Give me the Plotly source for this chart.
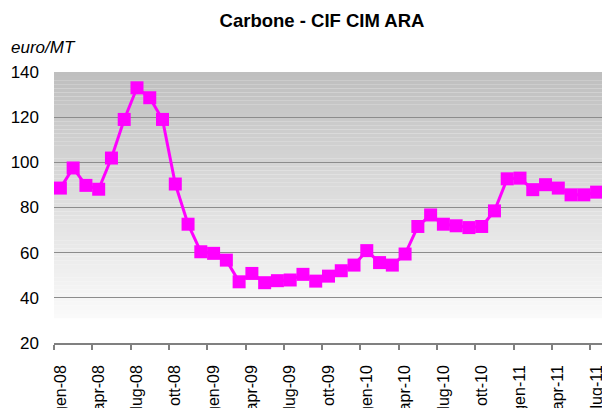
import plotly.graph_objects as go

months = ["gen-08","feb-08","mar-08","apr-08","mag-08","giu-08","lug-08","ago-08","set-08","ott-08","nov-08","dic-08",
          "gen-09","feb-09","mar-09","apr-09","mag-09","giu-09","lug-09","ago-09","set-09","ott-09","nov-09","dic-09",
          "gen-10","feb-10","mar-10","apr-10","mag-10","giu-10","lug-10","ago-10","set-10","ott-10","nov-10","dic-10",
          "gen-11","feb-11","mar-11","apr-11","mag-11","giu-11","lug-11","ago-11"]
prices = [88.6, 97.5, 89.8, 88.1, 101.9, 119.0, 133.0, 128.6, 119.0, 90.4, 72.6, 60.4,
          59.7, 56.7, 47.1, 50.8, 46.7, 47.6, 47.9, 50.4, 47.4, 49.6, 52.0, 54.5,
          60.9, 55.6, 54.5, 59.4, 71.6, 76.7, 72.6, 71.9, 71.1, 71.6, 78.5, 92.7,
          93.0, 87.9, 90.1, 88.6, 85.6, 85.6, 86.8, 87.9]
y_ticks = [20, 40, 60, 80, 100, 120, 140]

idx = list(range(len(months)))
label_idx = idx[::3]
label_txt = months[::3]
boundary_idx = [i - 0.5 for i in label_idx]

FONT = "Liberation Sans, Arial, sans-serif"

# page body has an 8px margin: figure sized so it fills the 610x408 window exactly
OFF = 8
W, H = 610 - OFF, 408 - OFF
ML, MR, MT, MB = 53.5 - OFF, 0, 72.3 - OFF, 65.3
PW, PH = W - ML - MR, H - MT - MB

fig = go.Figure()
fig.add_trace(go.Scatter(
    x=idx, y=prices, mode="lines+markers",
    line=dict(color="#ff00ff", width=3),
    marker=dict(symbol="square", size=13, color="#ff00ff"),
    hoverinfo="y", showlegend=False, cliponaxis=True,
))

# gradient plot-area background built from thin strips
g_bottom, g_top = 31.0, 140.0
n = 60
shapes = []
for k in range(n):
    y0 = g_bottom + (g_top - g_bottom) * k / n
    y1 = g_bottom + (g_top - g_bottom) * (k + 1) / n
    t = (k + 0.5) / n
    c = int(round(250 - (250 - 191) * t))
    shapes.append(dict(type="rect", xref="paper", yref="y", x0=0, x1=1, y0=y0, y1=y1,
                       fillcolor=f"rgb({c},{c},{c})", line=dict(width=0), layer="below"))

fig.update_layout(
    width=W, height=H,
    margin=dict(l=ML, r=MR, t=MT, b=MB, autoexpand=False),
    paper_bgcolor="white", plot_bgcolor="white",
    shapes=shapes,
    title=dict(text="<b>Carbone - CIF CIM ARA</b>", x=(322 - OFF) / W, xanchor="center",
               y=1 - (21 - OFF) / H, yanchor="middle",
               font=dict(family=FONT, size=18.5, color="black")),
    annotations=[dict(text="<i>euro/MT</i>", xref="paper", yref="paper",
                      x=(8 - OFF - ML) / PW, xanchor="left",
                      y=1 + (MT - (48 - OFF)) / PH, yanchor="middle", showarrow=False,
                      font=dict(family=FONT, size=17, color="black"))],
)

fig.update_xaxes(
    range=[-0.5, 43.05], automargin=False,
    tickmode="array", tickvals=label_idx, ticktext=label_txt,
    tickangle=-90, ticks="", ticklabelstandoff=14,
    tickfont=dict(family=FONT, size=16, color="black"),
    showgrid=False, zeroline=False,
    showline=True, linecolor="#808080", linewidth=1.5,
    minor=dict(tickmode="array", tickvals=boundary_idx, ticks="outside", ticklen=5,
               tickcolor="#808080", tickwidth=1.5, showgrid=False),
)
fig.update_yaxes(
    range=[20, 140], automargin=False, tickmode="array", tickvals=y_ticks,
    ticks="", ticklabelstandoff=14,
    tickfont=dict(family=FONT, size=17, color="black"),
    showgrid=True, gridcolor="#8c8c8c", gridwidth=1,
    zeroline=False, showline=False,
)

fig.write_html("out.html")
